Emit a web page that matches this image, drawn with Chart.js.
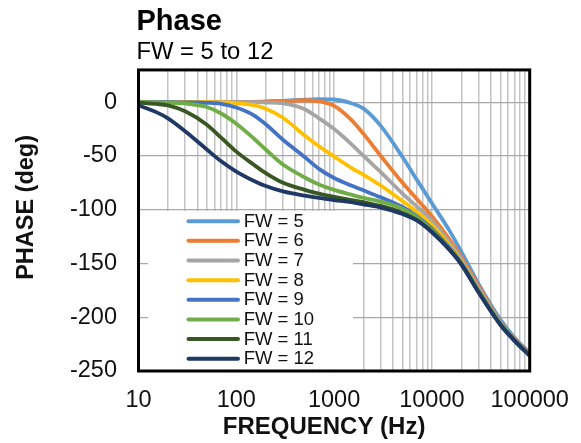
<!DOCTYPE html>
<html><head><meta charset="utf-8">
<script src="https://cdn.jsdelivr.net/npm/chart.js@4.4.1/dist/chart.umd.min.js"></script>
<style>html,body{margin:0;padding:0;background:#fff;}</style>
</head><body>
<canvas id="c" width="581" height="443"></canvas>
<script>
const TITLE = 'Phase';
const SUBTITLE = 'FW = 5 to 12';
const X_TITLE = 'FREQUENCY (Hz)';
const Y_TITLE = 'PHASE (deg)';

const frequencies = [10, 15, 20, 30, 50, 70, 100, 150, 200, 300, 500, 700, 1000, 1500, 2000, 3000, 5000, 7000, 10000, 15000, 20000, 30000, 50000, 70000, 100000];
const xLabelTicks = [10, 100, 1000, 10000, 100000];
const yTicks = [-250, -200, -150, -100, -50, 0];

const seriesNames = ['FW = 5', 'FW = 6', 'FW = 7', 'FW = 8', 'FW = 9', 'FW = 10', 'FW = 11', 'FW = 12'];
const fw5  = [0, 0, 0, 0, 0, 0, 0, 0.3, 0.7, 1.3, 2.3, 2.8, 2.5, -1, -6, -22, -51, -72, -94, -119, -139, -169, -202, -219, -233];
const fw6  = [0, 0, 0, 0, 0, 0, 0, 0, 0.3, 1, 1.8, 0.8, -3.5, -16.5, -29.5, -50, -75, -90, -106, -127, -144, -171, -204, -220.5, -234.5];
const fw7  = [0, 0, 0, 0, 0, 0, 0, 0, -0.3, -1, -6.5, -15, -25, -39, -50, -65, -85, -97, -110, -130, -146, -173, -204.5, -221, -235];
const fw8  = [0, 0, 0, 0, 0, -0.2, -0.8, -2.8, -6, -14.5, -31, -41, -50.5, -61, -67.5, -77.5, -92, -102, -114, -133, -148.5, -175, -205.5, -221, -235];
const fw9  = [0, 0, 0, -0.2, -0.6, -1.5, -5, -12, -20.5, -35, -51, -62, -70.5, -77.5, -82, -88.5, -97.5, -106, -117.5, -135, -149.5, -175.5, -205.5, -221, -235];
const fw10 = [0, -0.1, -0.4, -1.2, -4.5, -10.5, -20, -33.5, -44, -58, -70, -76.5, -81.5, -86, -89, -92.5, -99, -107, -119, -136, -150, -176, -206, -221.5, -235.5];
const fw11 = [-0.5, -1.5, -3, -8.5, -21, -33, -46, -58, -66, -75, -81.5, -85, -88, -91, -93, -96.5, -103, -109.5, -120.5, -136.5, -150.5, -176.5, -206.5, -221.5, -235.5];
const fw12 = [-3, -9, -15, -27, -44, -55, -64.5, -73, -78, -83, -87, -89, -91, -93, -95, -98, -104, -110, -121, -137, -151, -177, -207, -222, -236];

const seriesValues = [fw5, fw6, fw7, fw8, fw9, fw10, fw11, fw12];
const seriesColors = ['#5B9BD5', '#ED7D31', '#A5A5A5', '#FFC000', '#4472C4', '#70AD47', '#385723', '#203864'];

const FONT = '"Liberation Sans", Arial, sans-serif';
const TEXT = '#111111';

const datasets = seriesNames.map((name, i) => ({
  label: name,
  data: frequencies.map((f, j) => ({x: f, y: seriesValues[i][j]})),
  borderColor: seriesColors[i],
  backgroundColor: seriesColors[i],
  borderWidth: 3.8,
  borderCapStyle: 'round',
  borderJoinStyle: 'round',
  pointRadius: 0,
  pointHoverRadius: 0,
  fill: false,
  cubicInterpolationMode: 'monotone',
  order: seriesNames.length - 1 - i
}));

const titleShift = {
  id: 'titleShift',
  afterLayout(chart) {
    chart.boxes.forEach(b => {
      if (b.options && (b.options.text === TITLE || b.options.text === SUBTITLE)) {
        const w = b.right - b.left;
        b.left = chart.chartArea.left - 2;
        b.right = b.left + w;
      }
    });
  }
};

const insideLegend = {
  id: 'insideLegend',
  afterDatasetsDraw(chart) {
    const {ctx, chartArea: a, scales} = chart;
    const top = scales.y.getPixelForValue(-100) + 1.3;
    const left = a.left + 9.5;
    ctx.save();
    ctx.fillStyle = '#ffffff';
    ctx.fillRect(left, top, 205, a.bottom - 1.5 - top);
    ctx.font = '18.5px ' + FONT;
    ctx.textBaseline = 'middle';
    ctx.textAlign = 'left';
    chart.data.datasets.forEach((ds, i) => {
      const y = top + 10.2 + i * 19.65;
      ctx.beginPath();
      ctx.lineCap = 'round';
      ctx.lineWidth = 4;
      ctx.strokeStyle = ds.borderColor;
      ctx.moveTo(a.left + 50, y);
      ctx.lineTo(a.left + 99.5, y);
      ctx.stroke();
      ctx.fillStyle = TEXT;
      ctx.fillText(ds.label, a.left + 105.2, y + 0.5);
    });
    ctx.restore();
  }
};

const frameBorder = {
  id: 'frameBorder',
  afterDraw(chart) {
    const {ctx, chartArea: a} = chart;
    ctx.save();
    ctx.strokeStyle = '#000000';
    ctx.lineWidth = 3;
    ctx.strokeRect(a.left, a.top, a.right - a.left, a.bottom - a.top);
    ctx.restore();
  }
};

new Chart(document.getElementById('c'), {
  type: 'line',
  data: {datasets},
  plugins: [titleShift, insideLegend, frameBorder],
  options: {
    responsive: false,
    animation: false,
    devicePixelRatio: 1,
    layout: {padding: {top: 0, left: 0, right: 51.3, bottom: 0}},
    plugins: {
      legend: {display: false},
      tooltip: {enabled: false},
      title: {
        display: true, text: TITLE, align: 'start', color: '#000',
        font: {size: 29, weight: 'bold', family: FONT, lineHeight: 1.1},
        padding: {top: 5.75, bottom: 0}
      },
      subtitle: {
        display: true, text: SUBTITLE, align: 'start', color: '#000',
        font: {size: 23.8, family: FONT, lineHeight: 1.1},
        padding: {top: 1.5, bottom: 4.6}
      }
    },
    scales: {
      x: {
        type: 'logarithmic', min: 10, max: 100000,
        afterBuildTicks: (s) => {
          const t = [];
          for (let d = 10; d < 100000; d *= 10) for (let k = 1; k < 10; k++) t.push({value: d * k});
          t.push({value: 100000});
          s.ticks = t;
        },
        ticks: {
          autoSkip: false, maxRotation: 0, minRotation: 0, padding: 15,
          color: TEXT, font: {size: 23.5, family: FONT},
          callback: (v) => xLabelTicks.includes(v) ? String(v) : ''
        },
        grid: {color: '#c4c4c4', lineWidth: 1.5, drawTicks: false},
        border: {display: false},
        title: {
          display: true, text: X_TITLE + '   ', color: TEXT,
          font: {size: 24, weight: 'bold', family: FONT},
          padding: {top: 0, bottom: 1}
        },
        afterFit: (s) => { s.height = 72; s.paddingLeft = 0; s.paddingRight = 0; }
      },
      y: {
        type: 'linear', min: -250, max: 30,
        afterBuildTicks: (s) => { s.ticks = yTicks.map(v => ({value: v})); },
        ticks: {padding: 21.5, color: TEXT, font: {size: 23.5, family: FONT}},
        grid: {color: '#a8a8a8', lineWidth: 1.3, drawTicks: false},
        border: {display: false},
        title: {
          display: true, text: '    ' + Y_TITLE, color: TEXT,
          font: {size: 23.5, weight: 'bold', family: FONT},
          padding: {top: 12, bottom: 0}
        },
        afterFit: (s) => { s.width = 138.5; }
      }
    }
  }
});
</script>
</body></html>
